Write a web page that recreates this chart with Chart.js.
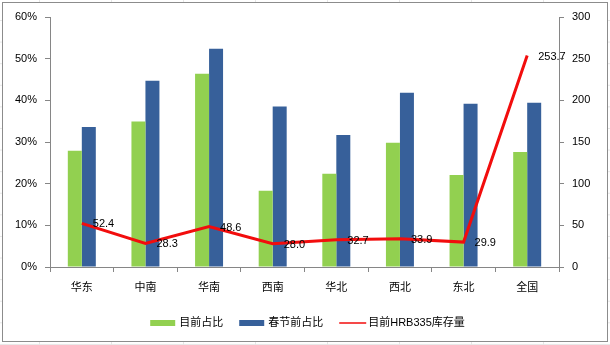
<!DOCTYPE html>
<html>
<head>
<meta charset="utf-8">
<script src="https://cdn.jsdelivr.net/npm/chart.js@4.4.0/dist/chart.umd.min.js"></script>
<style>
  html, body { margin: 0; padding: 0; }
  body {
    width: 610px; height: 345px; overflow: hidden;
    background-color: #fff;
    background-image:
      linear-gradient(to right, #e6e6e6 1px, transparent 1px),
      linear-gradient(to bottom, #e6e6e6 1px, transparent 1px);
    background-size: 72px 21.6px;
    background-position: 39px 20px;
  }
</style>
</head>
<body>
<canvas id="stock-chart" width="610" height="345"></canvas>
<script>
// --- data ---
const REGIONS = ["华东", "中南", "华南", "西南", "华北", "西北", "东北", "全国"];
const CURRENT_SHARE = [0.279, 0.349, 0.464, 0.183, 0.224, 0.298, 0.221, 0.276];
const PRE_FESTIVAL_SHARE = [0.336, 0.447, 0.524, 0.385, 0.317, 0.418, 0.392, 0.394];
const HRB335_STOCK = [52.4, 28.3, 48.6, 28.0, 32.7, 33.9, 29.9, 253.7];
const SERIES_NAMES = ["目前占比", "春节前占比", "目前HRB335库存量"];

const GREEN = "#92d050";
const BLUE = "#37609a";
const RED = "#f20d0d";
const AXIS_GREY = "#868686";
const FONT = '"Liberation Sans", "Noto Sans CJK SC", sans-serif';

Chart.defaults.font.family = FONT;
Chart.defaults.font.size = 11;
Chart.defaults.color = "#000";

// white chart box with a thin grey frame
const chartFrame = {
  id: "chartFrame",
  beforeDraw(chart) {
    const c = chart.ctx;
    c.save();
    c.fillStyle = "#fff";
    c.fillRect(2.5, 2.5, 605, 339);
    c.strokeStyle = "#8c8c8c";
    c.lineWidth = 1;
    c.strokeRect(2.5, 2.5, 605, 339);
    c.restore();
  }
};

// value labels to the right of each line point
const lineValueLabels = {
  id: "lineValueLabels",
  afterDatasetsDraw(chart) {
    const idx = chart.data.datasets.findIndex(d => d.type === "line");
    const meta = chart.getDatasetMeta(idx);
    const c = chart.ctx;
    c.save();
    c.font = "11px " + FONT;
    c.fillStyle = "#000";
    c.textAlign = "left";
    c.textBaseline = "middle";
    meta.data.forEach((pt, i) => {
      c.fillText(chart.data.datasets[idx].data[i].toFixed(1), pt.x + 11, pt.y + 1);
    });
    c.restore();
  }
};

// legend row along the bottom
const bottomLegend = {
  id: "bottomLegend",
  afterDraw(chart) {
    const c = chart.ctx;
    c.save();
    c.font = "11px " + FONT;
    c.textBaseline = "middle";
    const order = [1, 2, 0];
    const items = order.map(i => {
      const ds = chart.data.datasets[i];
      return { ds, w: 25 + 4 + c.measureText(ds.label).width };
    });
    const gap = 16;
    const total = items.reduce((s, it) => s + it.w, 0) + gap * (items.length - 1);
    let x = 307.5 - total / 2;
    const y = 323;
    items.forEach(it => {
      if (it.ds.type === "line") {
        c.strokeStyle = it.ds.borderColor;
        c.lineWidth = 1.5;
        c.beginPath();
        c.moveTo(x, y);
        c.lineTo(x + 27, y);
        c.stroke();
      } else {
        c.fillStyle = it.ds.backgroundColor;
        c.fillRect(x, y - 3, 25, 6);
      }
      c.fillStyle = "#000";
      c.fillText(it.ds.label, x + 29, y);
      x += it.w + gap;
    });
    c.restore();
  }
};

const ctx = document.getElementById("stock-chart").getContext("2d");
new Chart(ctx, {
  type: "bar",
  data: {
    labels: REGIONS,
    datasets: [
      {
        type: "line",
        label: SERIES_NAMES[2],
        data: HRB335_STOCK,
        yAxisID: "y1",
        borderColor: RED,
        backgroundColor: RED,
        borderWidth: 3,
        pointRadius: 0,
        tension: 0,
        order: 0
      },
      {
        label: SERIES_NAMES[0],
        data: CURRENT_SHARE,
        yAxisID: "y",
        backgroundColor: GREEN,
        barPercentage: 1,
        categoryPercentage: 0.44,
        order: 1
      },
      {
        label: SERIES_NAMES[1],
        data: PRE_FESTIVAL_SHARE,
        yAxisID: "y",
        backgroundColor: BLUE,
        barPercentage: 1,
        categoryPercentage: 0.44,
        order: 1
      }
    ]
  },
  options: {
    responsive: false,
    animation: false,
    devicePixelRatio: 1,
    layout: { padding: { top: 17, bottom: 48, left: 0, right: 0 } },
    plugins: {
      legend: { display: false },
      tooltip: { enabled: false }
    },
    scales: {
      x: {
        grid: { display: true, drawOnChartArea: false, drawTicks: true, tickLength: 5, color: AXIS_GREY, offset: true },
        border: { display: true, color: AXIS_GREY },
        ticks: { padding: 9, color: "#000", font: { size: 11 } },
        afterFit: s => { s.height = 30; }
      },
      y: {
        position: "left",
        min: 0,
        max: 0.6,
        grid: { display: true, drawOnChartArea: false, tickLength: 5, color: AXIS_GREY },
        border: { display: true, color: AXIS_GREY },
        ticks: { stepSize: 0.1, padding: 8, color: "#000", callback: v => Math.round(v * 100) + "%" },
        afterFit: s => { s.width = 50; }
      },
      y1: {
        position: "right",
        min: 0,
        max: 300,
        grid: { display: true, drawOnChartArea: false, tickLength: 5, color: AXIS_GREY },
        border: { display: true, color: AXIS_GREY },
        ticks: { stepSize: 50, padding: 8, color: "#000" },
        afterFit: s => { s.width = 51; }
      }
    }
  },
  plugins: [chartFrame, lineValueLabels, bottomLegend]
});
</script>
</body>
</html>
